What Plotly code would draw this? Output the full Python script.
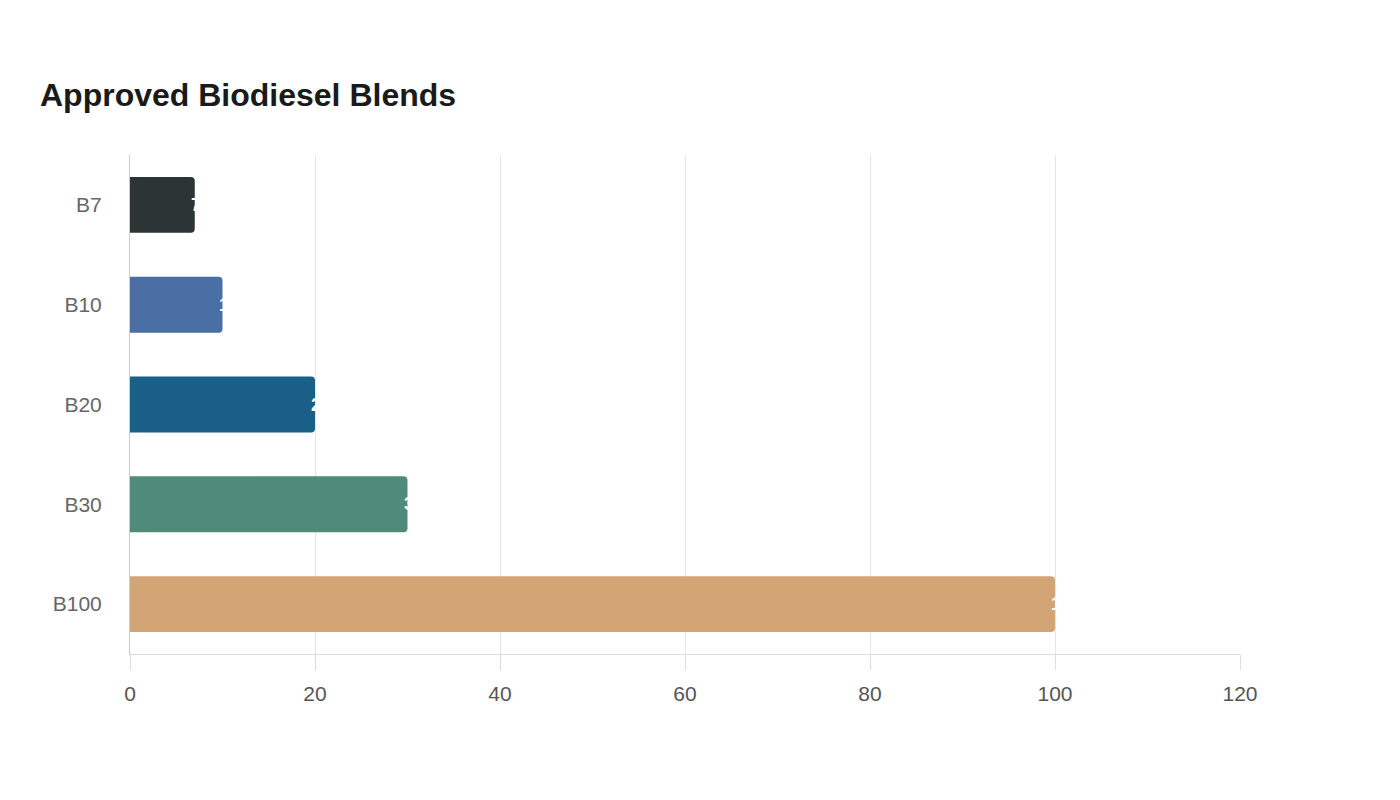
import plotly.graph_objects as go

categories = ["B7", "B10", "B20", "B30", "B100"]
values = [7, 10, 20, 30, 100]
colors = ["#2d3436", "#4a6fa5", "#1a5f87", "#4e8b7a", "#d4a574"]
x_ticks = [0, 20, 40, 60, 80, 100, 120]

fig = go.Figure()
fig.add_trace(go.Bar(
    y=categories, x=values, orientation="h",
    marker=dict(color=colors, cornerradius=4, line=dict(width=0)),
    hoverinfo="x+y", showlegend=False,
))

for c, v in zip(categories, values):
    fig.add_annotation(x=v, y=c, text=f"<b>{v}</b>", showarrow=False,
                       xanchor="left", xshift=-6, font=dict(color="white", size=18,
                       family="Liberation Sans, Arial, sans-serif"))

fig.update_layout(
    width=1400, height=800,
    paper_bgcolor="white", plot_bgcolor="white",
    margin=dict(l=130, r=160, t=155, b=146),
    bargap=0.44,
    title=dict(text="<b>Approved Biodiesel Blends</b>", x=40/1400, xanchor="left",
               y=1 - 95/800, yanchor="middle",
               font=dict(size=32, color="#1a1a1a", family="Liberation Sans, Arial, sans-serif")),
    font=dict(family="Liberation Sans, Arial, sans-serif"),
    xaxis=dict(range=[0, 120], tickvals=x_ticks, showgrid=True, gridcolor="#e6e6e6",
               gridwidth=1, zeroline=False, showline=True, linecolor="#dddddd",
               ticks="outside", ticklen=15, tickcolor="#dcdcdc", tickwidth=1,
               tickfont=dict(size=21, color="#555555"), ticklabelstandoff=6),
    yaxis=dict(categoryorder="array", categoryarray=categories[::-1],
               showgrid=False, zeroline=False, showline=True, linecolor="#cccccc",
               ticks="", tickfont=dict(size=21, color="#666666"), ticklabelstandoff=23),
)

fig.write_html("out.html")
